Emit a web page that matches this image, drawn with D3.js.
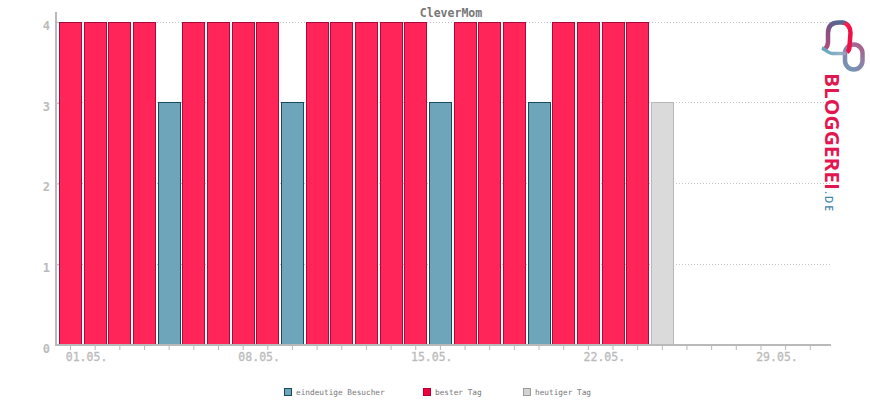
<!DOCTYPE html>
<html lang="en">
<head>
    <meta charset="UTF-8">
    <title>CleverMom</title>
    <script src="https://d3js.org/d3.v7.min.js"></script>
    <style>
        body { margin: 0; background: #fff; }
        svg { display: block; }
        text { font-family: 'DejaVu Sans Mono', monospace; }
        .title { font-size: 11.5px; font-weight: bold; fill: #777; text-anchor: middle; }
        .axis path { display: none; }
        .axis line { stroke: #b9b9b9; }
        .axis text { fill: #bbb; font-family: 'DejaVu Sans Mono', monospace; }
        .x.axis text { font-size: 11.5px; stroke: #bbb; stroke-width: 0.3px; }
        .y.axis text { font-size: 12px; font-weight: bold; }
        .grid line { stroke: #c4c4c4; stroke-dasharray: 1 2; }
        .legend text { font-size: 7.75px; fill: #777; }
    </style>
</head>
<body>
    <div id="chart"></div>

    <script>
        const days = d3.range(1, 32);
        const tickLabels = {1: "01.05.", 8: "08.05.", 15: "15.05.", 22: "22.05.", 29: "29.05."};
        const yTicks = [0, 1, 2, 3, 4];
        const visitors = [4, 4, 4, 4, 3, 4, 4, 4, 4, 3, 4, 4, 4, 4, 4, 3, 4, 4, 4, 3, 4, 4, 4, 4, 3];
        const legendLabels = ["eindeutige Besucher", "bester Tag", "heutiger Tag"];

        const width = 870;
        const height = 400;

        const svg = d3.select("#chart")
            .append("svg")
            .attr("width", width)
            .attr("height", height);

        const x = d3.scaleBand()
            .domain(days)
            .range([58.2, 822.6])
            .paddingInner(0.108)
            .paddingOuter(0.054);

        const y = d3.scaleLinear()
            .domain([0, 4])
            .range([345, 22]);

        // snap to the pixel grid so the 1px outlines stay crisp
        const snap = v => Math.floor(v) + 0.5;

        const maxValue = d3.max(visitors);

        function barFill(d, i) {
            if (i === visitors.length - 1) return "#dadada";
            return d === maxValue ? "#ff2559" : "#6ea5bb";
        }
        function barStroke(d, i) {
            if (i === visitors.length - 1) return "#b8b8b8";
            return d === maxValue ? "#a80a3c" : "#164a60";
        }

        svg.append("text")
            .attr("class", "title")
            .attr("x", 451)
            .attr("y", 16.5)
            .text("CleverMom");

        svg.append("g")
            .attr("class", "grid")
            .selectAll("line")
            .data(yTicks.slice(1))
            .join("line")
            .attr("x1", 58)
            .attr("x2", 830)
            .attr("y1", d => snap(y(d)))
            .attr("y2", d => snap(y(d)));

        svg.append("g")
            .selectAll("rect")
            .data(visitors)
            .join("rect")
            .attr("x", (d, i) => snap(x(days[i])))
            .attr("width", (d, i) => snap(x(days[i]) + x.bandwidth()) - snap(x(days[i])))
            .attr("y", d => snap(y(d)))
            .attr("height", d => y(0) - snap(y(d)))
            .attr("fill", barFill)
            .attr("stroke", barStroke);

        const xAxis = svg.append("g")
            .attr("class", "x axis")
            .attr("transform", "translate(0,345)")
            .call(d3.axisBottom(x).tickSize(5).tickFormat(d => tickLabels[d] || ""));

        xAxis.selectAll("text")
            .attr("dx", 16)
            .attr("y", 8);

        const yAxis = svg.append("g")
            .attr("class", "y axis")
            .attr("transform", "translate(56,0)")
            .call(d3.axisLeft(y).tickValues(yTicks).tickFormat(d3.format("d")).tickSize(0));

        yAxis.selectAll("text")
            .attr("x", -6)
            .attr("dy", "0.62em");

        yAxis.selectAll(".tick line")
            .attr("x1", 0)
            .attr("x2", 3);

        // axis lines are heavier than the d3 default
        svg.append("line")
            .attr("x1", 55).attr("x2", 831)
            .attr("y1", 345).attr("y2", 345)
            .attr("stroke", "#b9b9b9").attr("stroke-width", 2);
        svg.append("line")
            .attr("x1", 56).attr("x2", 56)
            .attr("y1", 12).attr("y2", 346)
            .attr("stroke", "#b9b9b9").attr("stroke-width", 2);

        // legend
        const legendX = [284, 423, 523];
        const legendFill = ["#6ea5bb", "#f5003c", "#d2d2d2"];
        const legendStroke = ["#164a60", "#b0003a", "#9c9c9c"];

        const legend = svg.append("g")
            .attr("class", "legend")
            .selectAll("g")
            .data(legendLabels)
            .join("g")
            .attr("transform", (d, i) => `translate(${legendX[i]},388)`);

        legend.append("rect")
            .attr("x", 0.5).attr("y", 0.5)
            .attr("width", 7).attr("height", 7)
            .attr("fill", (d, i) => legendFill[i])
            .attr("stroke", (d, i) => legendStroke[i]);

        legend.append("text")
            .attr("x", 12)
            .attr("y", 7)
            .text(d => d);

        // logo top right
        const defs = svg.append("defs");

        function gradient(id, x1, y1, x2, y2, stops) {
            const g = defs.append("linearGradient")
                .attr("id", id)
                .attr("gradientUnits", "userSpaceOnUse")
                .attr("x1", x1).attr("y1", y1)
                .attr("x2", x2).attr("y2", y2);
            stops.forEach(s => g.append("stop").attr("offset", s[0]).attr("stop-color", s[1]));
        }

        gradient("bubbleGrad", 826, 46, 842, 22, [[0, "#b04a78"], [0.6, "#7a5488"], [1, "#4f6b95"]]);
        gradient("redGrad", 843, 22, 850, 30, [[0, "#4f6b95"], [0.35, "#ff1a4a"], [1, "#f01048"]]);
        gradient("tailGrad", 822, 52, 848, 54, [[0, "#5fa3bd"], [0.7, "#8fb4c6"], [1, "#a090b0"]]);
        gradient("ringGrad", 844, 70, 864, 46, [[0, "#6f9ab8"], [0.6, "#8f7ea6"], [1, "#b05a84"]]);
        gradient("textGrad", 0, 74, 0, 190, [[0, "#e0184f"], [0.4, "#a53a70"], [1, "#4f6f9f"]]);

        const logo = svg.append("g")
            .attr("fill", "none")
            .attr("stroke-width", 4.5);

        logo.append("rect")
            .attr("x", 845).attr("y", 44.5)
            .attr("width", 17.5).attr("height", 25)
            .attr("rx", 8.7)
            .attr("stroke", "url(#ringGrad)");
        logo.append("path")
            .attr("d", "M825,49 C827,47 828,45 828,42 L828,33 C828,26 832,22.5 839,22.5 L843,22.5")
            .attr("stroke", "url(#bubbleGrad)");
        logo.append("path")
            .attr("d", "M842,22.5 C847,22.5 850.5,27 850.5,33 L849.5,46 C849.5,49 849,51 847,52")
            .attr("stroke", "url(#redGrad)");
        logo.append("path")
            .attr("d", "M822,48 C826,49.5 828,53.5 832,53.5 L846,53.5")
            .attr("stroke", "url(#tailGrad)")
            .attr("stroke-width", 3.5);

        svg.append("text")
            .attr("transform", "translate(825,73) rotate(90)")
            .attr("textLength", 117)
            .attr("lengthAdjust", "spacingAndGlyphs")
            .attr("fill", "url(#textGrad)")
            .style("font-family", "'Open Sans', sans-serif")
            .style("font-weight", "700")
            .style("font-size", "20px")
            .text("BLOGGEREI");

        svg.append("text")
            .attr("transform", "translate(825,191) rotate(90)")
            .attr("textLength", 20)
            .attr("fill", "#3f86a8")
            .style("font-family", "'Open Sans', sans-serif")
            .style("font-weight", "600")
            .style("font-size", "10.5px")
            .text(".DE");
    </script>
</body>
</html>
